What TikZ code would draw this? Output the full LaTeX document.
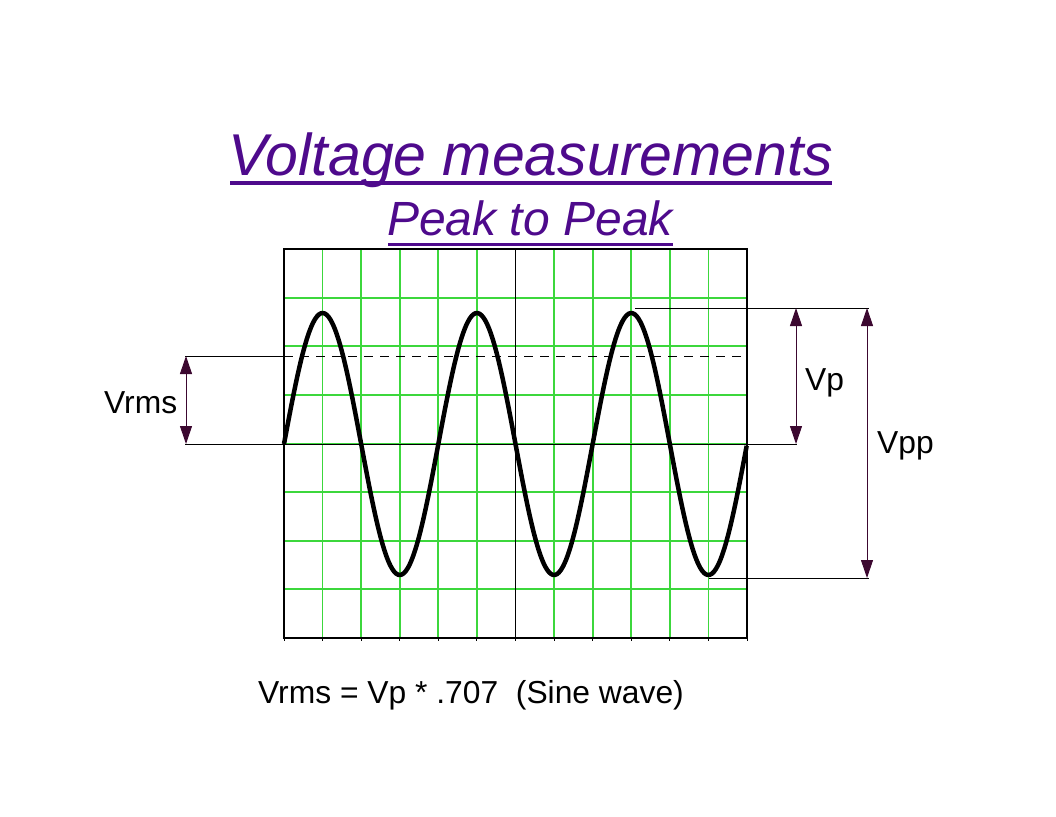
\documentclass[tikz,border=0pt]{standalone}
\usepackage{fontspec}
\setmainfont{Liberation Sans}
\usetikzlibrary{arrows.meta}
\definecolor{titlepurple}{RGB}{78,10,140}
\definecolor{gridgreen}{RGB}{60,215,60}
\definecolor{tipcol}{RGB}{60,8,48}
\tikzset{
  gridline/.style={gridgreen, line width=1.8pt},
  frame/.style={black, line width=1.1pt},
  thin/.style={black, line width=1pt},
  dim/.style={tipcol, line width=1pt, {Triangle[width=12pt,length=18pt]}-{Triangle[width=12pt,length=18pt]}},
  wave/.style={black, line width=4.5pt, line join=round},
  lbl/.style={inner sep=0pt, anchor=base west, font=\fontsize{31.8}{34}\selectfont},
}
\begin{document}
\begin{tikzpicture}[x=1pt,y=-1pt]
\useasboundingbox (0,0) rectangle (1056,816);
% title
\node[inner sep=0pt, anchor=base, text=titlepurple, font=\fontsize{59}{61}\selectfont\itshape] (title) at (531,175) {Voltage measurements};
\draw[titlepurple, line width=3.5pt] (230,183) -- (832,183);
\node[inner sep=0pt, anchor=base, text=titlepurple, font=\fontsize{48}{50}\selectfont\itshape] (sub) at (530,235) {Peak to Peak};
\draw[titlepurple, line width=3pt] (388,244) -- (673,244);
% grid
\foreach \i in {1,...,11} {
  \draw[gridline] ({284+38.583*\i},249) -- ({284+38.583*\i},638);
}
\foreach \j in {1,...,7} {
  \draw[gridline] (284,{249+48.625*\j}) -- (747,{249+48.625*\j});
}
\foreach \i in {0,...,12} {
  \draw[thin] ({284+38.583*\i},638) -- ({284+38.583*\i},641);
}
\draw[frame] (284,249) rectangle (747,638);
\draw[frame] (515.5,249) -- (515.5,638);
% reference coordinates
\coordinate (zl) at (185,444);
\coordinate (zr) at (797,444);
\coordinate (rmsl) at (185,356);
\coordinate (rmsg) at (284,356);
\coordinate (rmsr) at (745,356);
\coordinate (pkl) at (635,308);
\coordinate (pkr) at (869,308);
\coordinate (trl) at (709,578);
\coordinate (trr) at (869,578);
\coordinate (vpt) at (796,308);
\coordinate (vpb) at (796,444);
\coordinate (vppt) at (867,308);
\coordinate (vppb) at (867,578);
\coordinate (vrt) at (186,356);
\coordinate (vrb) at (186,444);
% reference lines
\draw[thin] (zl) -- (zr);
\draw[thin] (rmsl) -- (rmsg);
\draw[thin, dash pattern=on 9pt off 7pt] (rmsg) -- (rmsr);
\draw[thin] (pkl) -- (pkr);
\draw[thin] (trl) -- (trr);
% wave
\draw[wave] plot[domain=0:3, samples=240, smooth] ({284+154.333*\x}, {444-131*sin(360*\x)});
% dimension arrows
\draw[dim] (vrt) -- (vrb);
\draw[dim] (vpt) -- (vpb);
\draw[dim] (vppt) -- (vppb);
% labels
\node[lbl] (lvrms) at (104,413) {Vrms};
\node[lbl] (lvp) at (805,390) {Vp};
\node[lbl] (lvpp) at (877,453) {Vpp};
\node[lbl] (formula) at (258,703) {Vrms = Vp * .707 \ (Sine wave)};
\end{tikzpicture}
\end{document}
